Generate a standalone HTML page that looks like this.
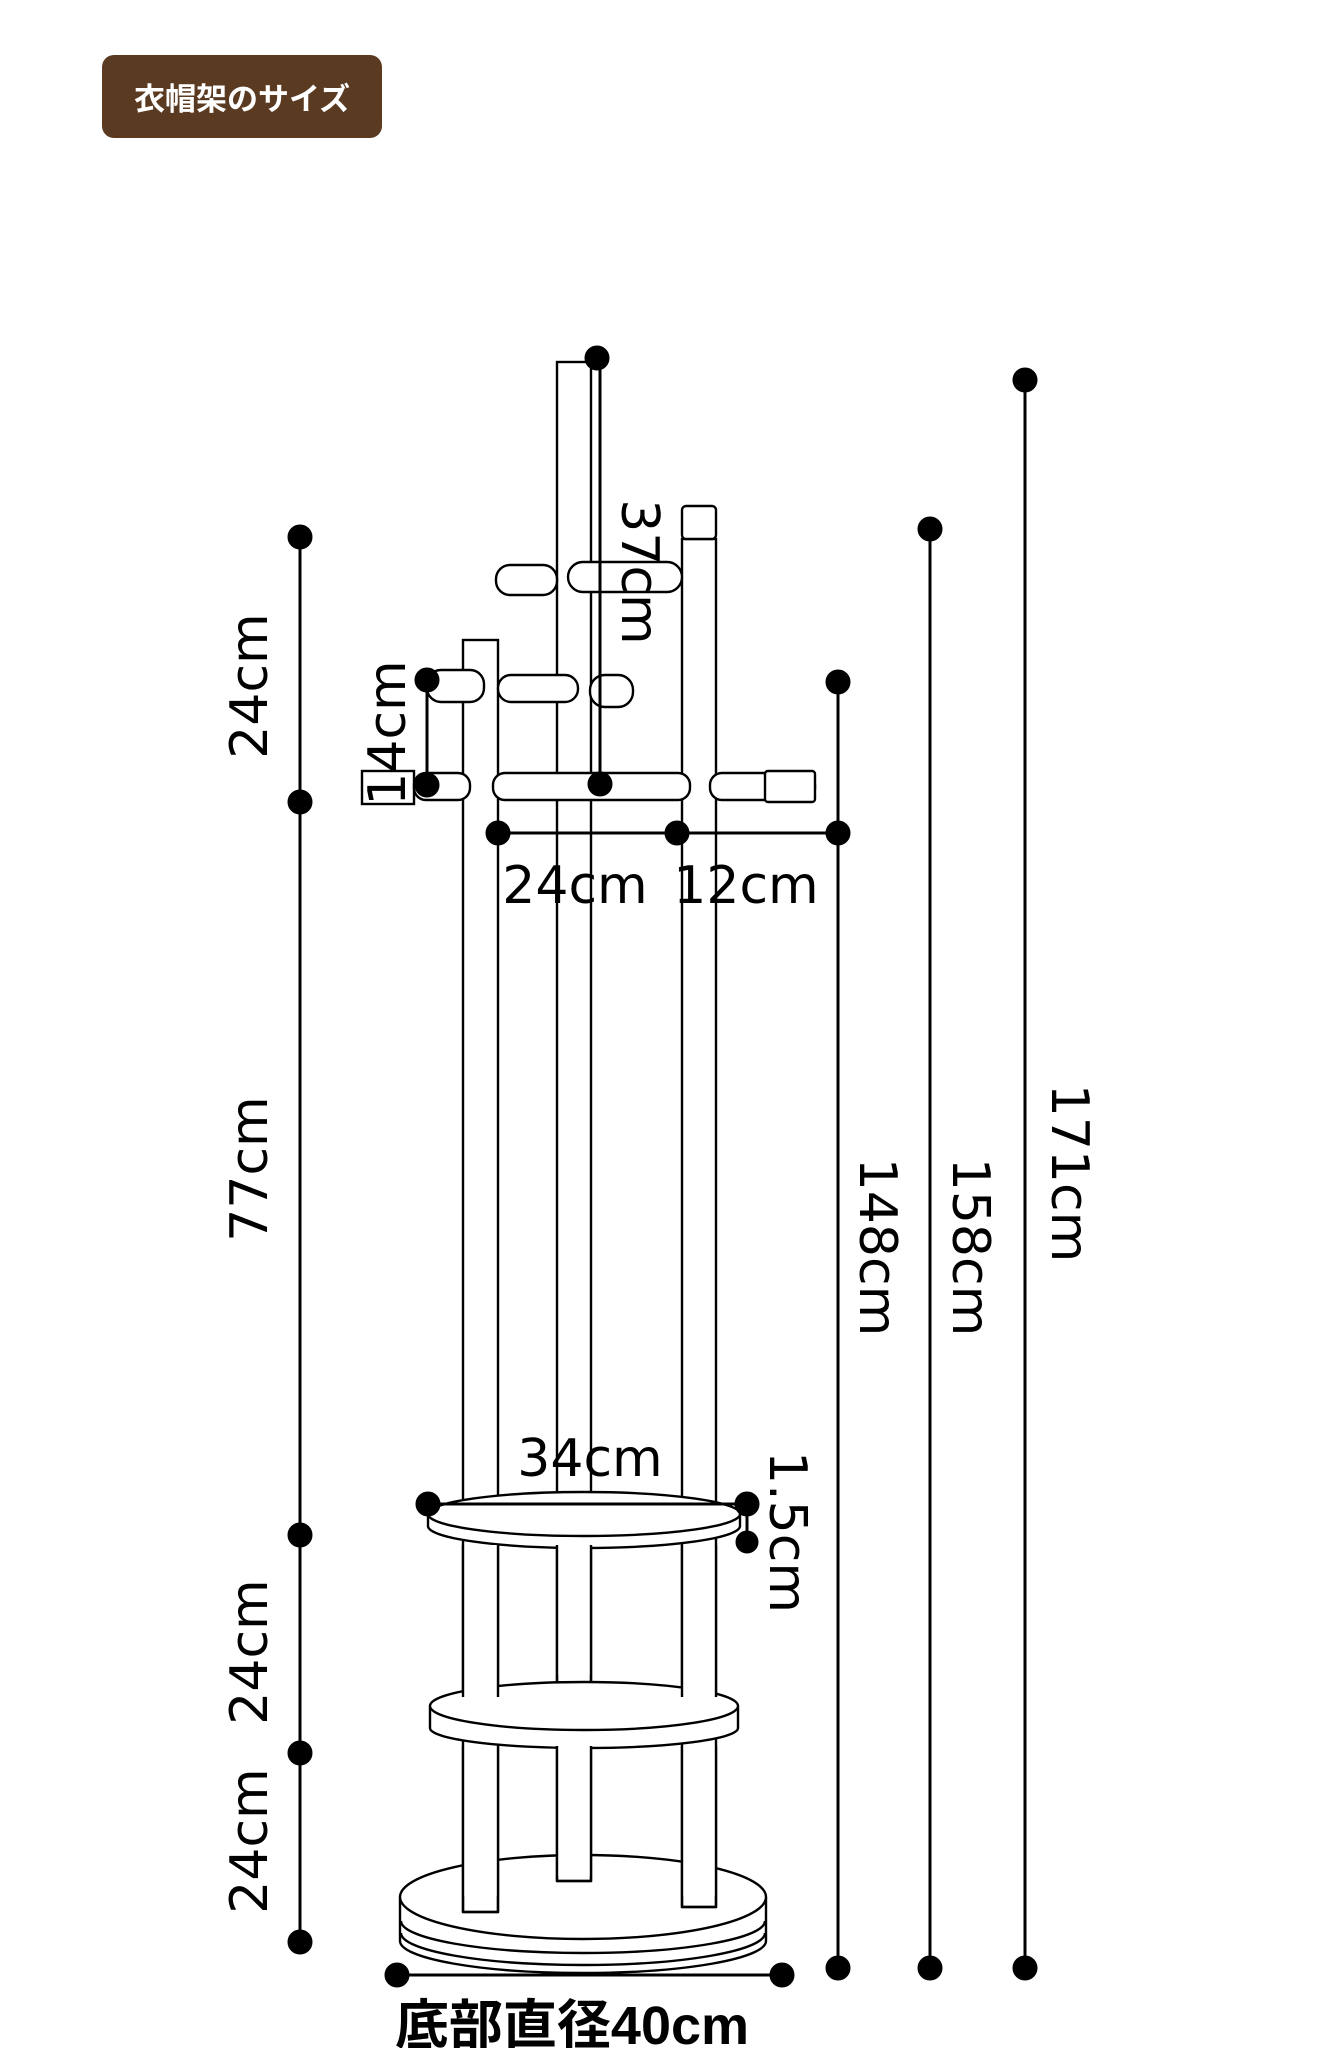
<!DOCTYPE html>
<html><head><meta charset="utf-8"><style>
html,body{margin:0;padding:0;background:#fff;}
svg{display:block;}
text{font-family:"DejaVu Sans","Liberation Sans",sans-serif;fill:#000;}
</style></head><body>
<svg width="1322" height="2048" viewBox="0 0 1322 2048" xmlns="http://www.w3.org/2000/svg">
<rect x="102" y="55" width="280" height="83" rx="12" fill="#5b3a22"/>
<text x="242" y="110" text-anchor="middle" font-size="31" font-weight="bold" style="fill:#fff;font-family:'Noto Sans CJK JP',sans-serif">衣帽架のサイズ</text>

<g fill="#fff" stroke="#000" stroke-width="2.4">
<path d="M400 1897 v44 a183 32 0 0 0 366 0 v-44"/>
<path d="M401 1921 a182 32 0 0 0 364 0" fill="none"/>
<path d="M401 1933 a182 32 0 0 0 364 0" fill="none"/>
<ellipse cx="583" cy="1897" rx="183" ry="42"/>
<rect x="463" y="640" width="35" height="1272"/>
<rect x="557" y="362" width="34" height="1519"/>
<rect x="682" y="539" width="34" height="1368"/>
<rect x="682" y="506" width="34" height="33" rx="4"/>
<path d="M430 1706 v22 a154 20 0 0 0 308 0 v-22"/>
<ellipse cx="584" cy="1706" rx="154" ry="24"/>
<path d="M428 1514 v12 a156 22 0 0 0 312 0 v-12"/>
<ellipse cx="584" cy="1514" rx="156" ry="22"/>
<rect x="463" y="1545" width="35" height="150" stroke="none"/>
<rect x="557" y="1545" width="34" height="130" stroke="none"/>
<rect x="682" y="1545" width="34" height="150" stroke="none"/>
<path d="M463 1545V1697M498 1545V1697M557 1545V1682M591 1545V1682M682 1545V1697M716 1545V1697" fill="none"/>
<rect x="463" y="1746" width="35" height="150" stroke="none"/>
<rect x="557" y="1746" width="34" height="130" stroke="none"/>
<rect x="682" y="1746" width="34" height="150" stroke="none"/>
<path d="M463 1746V1912M498 1746V1912M463 1912H498M557 1746V1881M591 1746V1881M557 1881H591M682 1746V1907M716 1746V1907M682 1907H716" fill="none"/>
<rect x="362" y="771" width="52" height="33"/>
<rect x="414" y="773" width="56" height="27" rx="12"/>
<rect x="493" y="773" width="197" height="27" rx="12"/>
<rect x="710" y="773" width="105" height="27" rx="12"/>
<rect x="765" y="771" width="50" height="31" rx="3"/>
<rect x="427" y="670" width="57" height="32" rx="14"/>
<rect x="498" y="675" width="80" height="27" rx="13"/>
<rect x="590" y="675" width="43" height="32" rx="15"/>
<rect x="496" y="565" width="61" height="30" rx="14"/>
<rect x="568" y="562" width="114" height="30" rx="15"/>
</g>

<g stroke="#000" stroke-width="3" fill="#000">
<line x1="300" y1="537" x2="300" y2="1942"/>
<circle cx="300" cy="537" r="11"/><circle cx="300" cy="802" r="11"/><circle cx="300" cy="1535" r="11"/><circle cx="300" cy="1753" r="11"/><circle cx="300" cy="1942" r="11"/>
<line x1="838" y1="682" x2="838" y2="1968"/><circle cx="838" cy="682" r="11"/><circle cx="838" cy="1968" r="11"/>
<line x1="930" y1="529" x2="930" y2="1968"/><circle cx="930" cy="529" r="11"/><circle cx="930" cy="1968" r="11"/>
<line x1="1025" y1="380" x2="1025" y2="1968"/><circle cx="1025" cy="380" r="11"/><circle cx="1025" cy="1968" r="11"/>
<line x1="600" y1="358" x2="600" y2="784"/><circle cx="597" cy="358" r="11"/><circle cx="600" cy="784" r="11"/>
<line x1="427" y1="680" x2="427" y2="785"/><circle cx="427" cy="680" r="11"/><circle cx="427" cy="785" r="11"/>
<line x1="498" y1="833" x2="838" y2="833"/><circle cx="498" cy="833" r="11"/><circle cx="677" cy="833" r="11"/><circle cx="838" cy="833" r="11"/>
<line x1="428" y1="1504" x2="747" y2="1504"/><circle cx="428" cy="1504" r="11"/><circle cx="747" cy="1504" r="11"/>
<line x1="747" y1="1504" x2="747" y2="1542"/><circle cx="747" cy="1542" r="10"/>
<line x1="397" y1="1975" x2="782" y2="1975"/><circle cx="397" cy="1975" r="11"/><circle cx="782" cy="1975" r="11"/>
</g>

<g font-size="52">
<text transform="translate(267,686) rotate(-90)" text-anchor="middle">24cm</text>
<text transform="translate(267,1169) rotate(-90)" text-anchor="middle">77cm</text>
<text transform="translate(267,1652) rotate(-90)" text-anchor="middle">24cm</text>
<text transform="translate(267,1841) rotate(-90)" text-anchor="middle">24cm</text>
<text transform="translate(405,733) rotate(-90)" text-anchor="middle">14cm</text>
<text transform="translate(622,572) rotate(90)" text-anchor="middle">37cm</text>
<text transform="translate(860,1247) rotate(90)" text-anchor="middle">148cm</text>
<text transform="translate(953,1247) rotate(90)" text-anchor="middle">158cm</text>
<text transform="translate(1052,1173) rotate(90)" text-anchor="middle">171cm</text>
<text transform="translate(770,1532) rotate(90)" text-anchor="middle">1.5cm</text>
<text x="575" y="903" text-anchor="middle">24cm</text>
<text x="746" y="903" text-anchor="middle">12cm</text>
<text x="590" y="1476" text-anchor="middle">34cm</text>
</g>
<text x="572" y="2044" text-anchor="middle" font-size="54" font-weight="bold" style="font-family:'Liberation Sans','Noto Sans CJK JP',sans-serif">底部直径40cm</text>
</svg>
</body></html>
